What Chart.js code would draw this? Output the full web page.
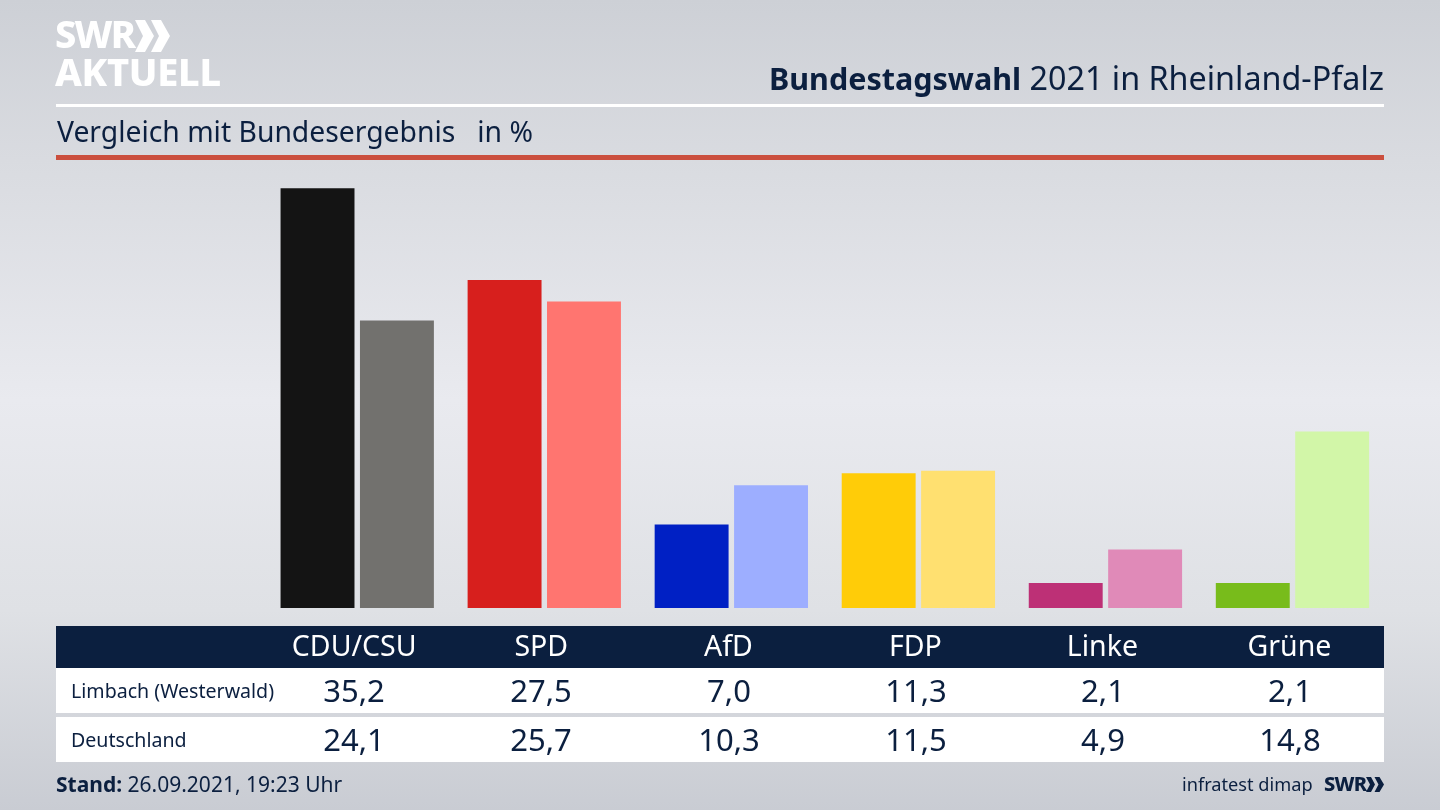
<!DOCTYPE html>
<html lang="de"><head><meta charset="utf-8"><title>Bundestagswahl 2021 in Rheinland-Pfalz</title>
<script src="https://cdn.jsdelivr.net/npm/chart.js@4"></script>
<style>
html,body{margin:0;padding:0;width:1440px;height:810px;overflow:hidden}
body{position:relative;font-family:"Noto Sans",sans-serif;color:#0b1f3f;
background:linear-gradient(180deg,#cdd0d6 0,#d9dbe0 160px,#e9eaef 400px,#dfe1e5 610px,#c9ccd3 810px)}
.a{position:absolute;white-space:nowrap;line-height:1}
.band{position:absolute;left:56px;width:1328px}
canvas{position:absolute;left:0;top:0}
.val{position:absolute;width:180px;text-align:center;font-size:31px;line-height:1}
</style></head><body>
<div class="band" style="top:104px;height:3px;background:#fff"></div>
<div class="band" style="top:155px;height:5px;background:#cb4f3e"></div>
<div class="band" style="top:626px;height:42px;background:#0b1f3f"></div>
<div class="band" style="top:668px;height:45px;background:#fff"></div>
<div class="band" style="top:717px;height:45px;background:#fff"></div>
<canvas id="c" width="1440" height="810"></canvas>

<div class="a" style="left:55px;top:14px;font:800 38px/1 'Noto Sans';color:#fff;letter-spacing:-1.8px">SWR</div>
<svg class="a" style="left:135px;top:20px" width="35" height="32" viewBox="0 0 35 32"><path d="M0 0h10l9 16-9 16H0l8-16zM16 0h10l9 16-9 16H16l8-16z" fill="#fff"/></svg>
<div class="a" style="left:55px;top:52px;font:800 38px/1 'Noto Sans';color:#fff;letter-spacing:-.3px">AKTUELL</div>
<div class="a" style="right:56px;top:61px;font-size:32.300px"><b style="font-size:30.500px">Bundestagswahl</b> 2021 in Rheinland-Pfalz</div>
<div class="a" style="left:57px;top:117px;font-size:28.300px">Vergleich mit Bundesergebnis&nbsp;&nbsp; in %</div>
<div class="a" id="r0" style="left:71px;top:681px;font-size:19.600px"></div>
<div class="a" id="r1" style="left:71px;top:730px;font-size:19.600px"></div>
<div class="a" style="left:56px;top:774px;font-size:21px"><b>Stand:</b> 26.09.2021, 19:23 Uhr</div>
<div class="a" style="left:1182px;top:775px;font-size:18.200px">infratest dimap</div>
<div class="a" style="left:1324px;top:774px;font:800 20px/1 'Noto Sans';letter-spacing:-.8px">SWR</div>
<svg class="a" style="left:1366px;top:777px" width="18" height="15" viewBox="0 0 18 15"><path d="M0 0h5l4 7.500-4 7.500H0l4-7.500zM8.500 0h5l4.500 7.500-4.500 7.500h-5l4-7.500z" fill="#0b1f3f"/></svg>

<script>
const parties = ["CDU/CSU","SPD","AfD","FDP","Linke","Grüne"];
const rowLabels = ["Limbach (Westerwald)","Deutschland"];
const limbach = [35.2,27.5,7.0,11.3,2.1,2.1];
const deutschland = [24.1,25.7,10.3,11.5,4.9,14.8];
const limbachColors = ["#141414","#d71f1d","#0020c4","#ffcc08","#bd3076","#78bc1b"];
const deutschlandColors = ["#72716e","#ff7570","#9daeff","#ffe070","#e08ab8","#d2f6a8"];
const valueCentres = [354,541,729,916,1103,1290];
const valueRows = [[limbach,675],[deutschland,724]];

new Chart(document.getElementById("c"),{
  type:"bar",
  data:{labels:parties,datasets:[
    {label:rowLabels[0],data:limbach,backgroundColor:limbachColors},
    {label:rowLabels[1],data:deutschland,backgroundColor:deutschlandColors}
  ]},
  options:{
    responsive:false,animation:false,
    layout:{padding:{left:263.7,right:54,top:131,bottom:0}},
    datasets:{bar:{categoryPercentage:0.849,barPercentage:0.931}},
    plugins:{legend:{display:false},tooltip:{enabled:false},title:{display:false}},
    scales:{
      y:{display:false,min:0,max:40,grid:{display:false}},
      x:{grid:{display:false},border:{display:false},
        afterFit(s){s.height=202},
        ticks:{color:"#ffffff",padding:15,labelOffset:-3,maxRotation:0,autoSkip:false,
          font:{family:"Noto Sans",size:28.5}}}
    }
  }
});

document.getElementById("r0").textContent=rowLabels[0];
document.getElementById("r1").textContent=rowLabels[1];
valueRows.forEach(([vals,top])=>vals.forEach((v,i)=>{
  const d=document.createElement("div");
  d.className="val";d.style.left=(valueCentres[i]-90)+"px";d.style.top=top+"px";
  d.textContent=v.toFixed(1).replace(".",",");
  document.body.appendChild(d);
}));
</script>
</body></html>
